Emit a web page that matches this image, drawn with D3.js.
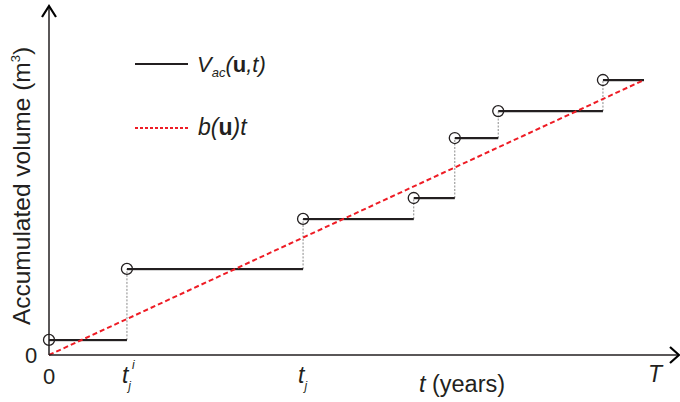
<!DOCTYPE html>
<html>
<head>
<meta charset="utf-8">
<script src="https://cdn.jsdelivr.net/npm/d3@7"></script>
<style>
  body { margin: 0; background: #fff; }
  svg { display: block; font-family: "Liberation Sans", Arial, sans-serif; }
</style>
</head>
<body>
<svg id="chart" width="680" height="402"></svg>
<script>
// ---- data ----
const stepTimes  = [0, 13.1, 42.7, 61.3, 68.2, 75.5, 93.1];   // jump times (t)
const stepValues = [5.5, 31.3, 49.5, 57.1, 78.9, 88.7, 100];   // accumulated volume after jump
const horizonT = 100;                                          // T
const trendStart = [0, 0];
const trendEnd = [100, 100];
const xTickValues = [0, 13.1, 42.7, 100];
const xTickLabels = ["0", "t_j^i", "t_j", "T"];
const yTickValues = [0];
const yTickLabels = ["0"];

// ---- layout ----
const svg = d3.select("#chart");
const x = d3.scaleLinear().domain([0, 100]).range([49, 644]);
const y = d3.scaleLinear().domain([0, 100]).range([355, 80]);

const ink = "#231f20";

// steps: horizontal segments
const segs = stepTimes.map((t, i) => ({
  t0: t, t1: i < stepTimes.length - 1 ? stepTimes[i + 1] : horizonT, v: stepValues[i]
}));

// vertical gray dashed jumps
const jumps = stepTimes.slice(1).map((t, i) => ({ t, v0: stepValues[i], v1: stepValues[i + 1] }));

svg.append("g").selectAll("line").data(jumps).join("line")
  .attr("x1", d => x(d.t)).attr("x2", d => x(d.t))
  .attr("y1", d => y(d.v0)).attr("y2", d => y(d.v1))
  .attr("stroke", "#8a8a8a").attr("stroke-width", 1)
  .attr("stroke-dasharray", "2,1.5");

// faint gray under-line of horizontals
svg.append("g").selectAll("line").data(segs).join("line")
  .attr("x1", d => x(d.t0)).attr("x2", d => x(d.t1))
  .attr("y1", d => y(d.v) + 1).attr("y2", d => y(d.v) + 1)
  .attr("stroke", "#9a9a9a").attr("stroke-width", 1);

svg.append("g").selectAll("line").data(segs).join("line")
  .attr("x1", d => x(d.t0)).attr("x2", d => x(d.t1))
  .attr("y1", d => y(d.v)).attr("y2", d => y(d.v))
  .attr("stroke", ink).attr("stroke-width", 2);

// trend line b(u)t
svg.append("line")
  .attr("x1", x(trendStart[0])).attr("y1", y(trendStart[1]))
  .attr("x2", x(trendEnd[0])).attr("y2", y(trendEnd[1]))
  .attr("stroke", "#ee1c25").attr("stroke-width", 2)
  .attr("stroke-dasharray", "5,3");

// circles
svg.append("g").selectAll("circle").data(segs).join("circle")
  .attr("cx", d => x(d.t0)).attr("cy", d => y(d.v)).attr("r", 5.5)
  .attr("fill", "none").attr("stroke", ink).attr("stroke-width", 1.3);

// axes
const xAxis = d3.axisBottom(x).tickValues([]).tickSize(0);
const gx = svg.append("g").attr("transform", `translate(0,${y(0)})`).call(xAxis);
gx.select(".domain").remove();
gx.append("line").attr("x1", x(0)).attr("x2", 679).attr("y1", 0).attr("y2", 0)
  .attr("stroke", ink).attr("stroke-width", 1.5);
gx.append("path").attr("d", "M670,-8L679,0L670,8")
  .attr("fill", "none").attr("stroke", "#000").attr("stroke-width", 2.2);

const yAxis = d3.axisLeft(y).tickValues([]).tickSize(0);
const gy = svg.append("g").attr("transform", `translate(${x(0)},0)`).call(yAxis);
gy.select(".domain").remove();
gy.append("line").attr("x1", 0).attr("x2", 0)
  .attr("y1", y(0)).attr("y2", 6)
  .attr("stroke", ink).attr("stroke-width", 1.5);
gy.append("path").attr("d", "M-7,17L0,6L7,17")
  .attr("fill", "none").attr("stroke", "#000").attr("stroke-width", 2.2);

// x tick labels (rich)
const fs = 22;
const xl = svg.append("g").attr("fill", ink).attr("font-size", fs);
xTickValues.forEach((v, i) => {
  const lab = xTickLabels[i];
  const px = x(v);
  if (lab === "0") {
    xl.append("text").attr("x", px).attr("y", 384).attr("text-anchor", "middle").text("0");
  } else if (lab === "T") {
    xl.append("text").attr("x", px + 11).attr("y", 382).attr("text-anchor", "middle")
      .attr("font-style", "italic").attr("font-size", 23).text("T");
  } else {
    const [base, rest] = lab.split("_");
    const [sub, sup] = rest.split("^");
    const tx = xl.append("text").attr("x", px - 5).attr("y", 383).attr("font-style", "italic")
      .attr("font-size", 23);
    tx.append("tspan").text(base);
    tx.append("tspan").attr("font-size", 12).attr("dy", 7).text(sub);
    if (sup) {
      xl.append("text").attr("x", px + 5).attr("y", 369).attr("font-size", 12)
        .attr("font-style", "italic").text(sup);
    }
  }
});

// y tick labels
yTickValues.forEach((v, i) => {
  svg.append("text").attr("x", 31).attr("y", y(v) + 8).attr("text-anchor", "middle")
    .attr("font-size", fs).attr("fill", ink).text(yTickLabels[i]);
});

// axis titles
const xt = svg.append("text").attr("x", 462).attr("y", 392).attr("text-anchor", "middle")
  .attr("font-size", 23.5).attr("fill", ink);
xt.append("tspan").attr("font-style", "italic").text("t");
xt.append("tspan").text(" (years)");

const yt = svg.append("text")
  .attr("transform", `translate(30,${186}) rotate(-90)`)
  .attr("text-anchor", "middle").attr("font-size", 24.5).attr("fill", ink);
yt.append("tspan").text("Accumulated volume (m");
yt.append("tspan").attr("font-size", 13).attr("dy", -10).text("3");
yt.append("tspan").attr("dy", 10).text(")");

// legend
const lg = svg.append("g");
lg.append("line").attr("x1", 135).attr("x2", 188).attr("y1", 64).attr("y2", 64)
  .attr("stroke", ink).attr("stroke-width", 2);
lg.append("line").attr("x1", 135).attr("x2", 188).attr("y1", 128).attr("y2", 128)
  .attr("stroke", "#ee1c25").attr("stroke-width", 2).attr("stroke-dasharray", "3,2");

const l1 = lg.append("text").attr("x", 197).attr("y", 72).attr("font-size", fs).attr("fill", ink)
  .attr("font-style", "italic");
l1.append("tspan").text("V");
l1.append("tspan").attr("font-size", 13).attr("dy", 5).text("ac");
l1.append("tspan").attr("dy", -5).text("(");
l1.append("tspan").attr("font-weight", "bold").attr("font-style", "normal").text("u");
l1.append("tspan").text(",t)");

const l2 = lg.append("text").attr("x", 198).attr("y", 135).attr("font-size", 23).attr("fill", ink)
  .attr("font-style", "italic");
l2.append("tspan").text("b(");
l2.append("tspan").attr("font-weight", "bold").attr("font-style", "normal").text("u");
l2.append("tspan").text(")t");
</script>
</body>
</html>
